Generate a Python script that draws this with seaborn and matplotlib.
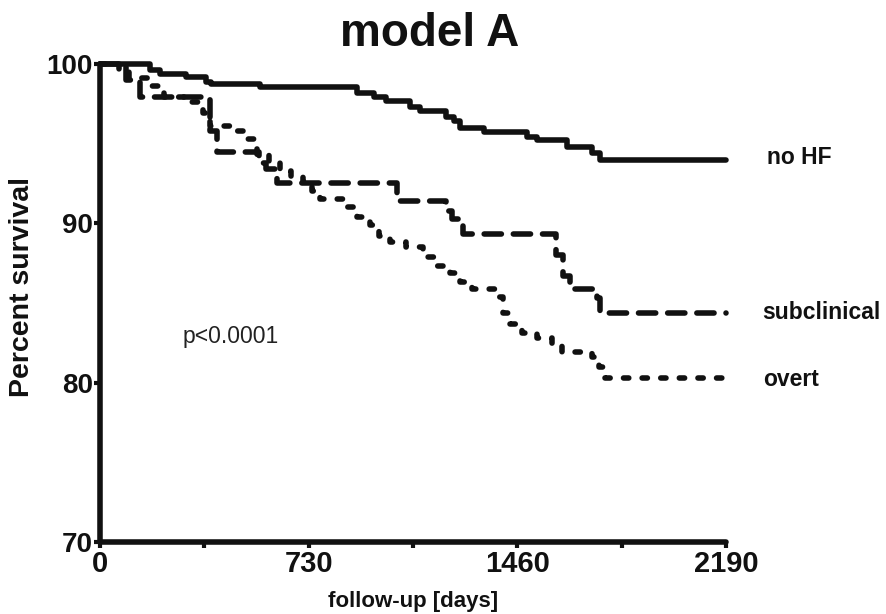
import matplotlib
matplotlib.use("Agg")
import matplotlib.pyplot as plt
import seaborn as sns
import pandas as pd
from matplotlib.ticker import MultipleLocator

# survival step curves (days, percent survival)
nohf_days = [0, 175, 210, 300, 370, 390, 560, 900, 960, 1000, 1085, 1120, 1210, 1240,
             1260, 1345, 1495, 1530, 1635, 1720, 1750, 2190]
nohf_surv = [100, 99.6, 99.4, 99.2, 98.9, 98.75, 98.55, 98.2, 97.9, 97.7, 97.3, 97.05,
             96.7, 96.4, 96.0, 95.7, 95.4, 95.2, 94.8, 94.4, 94.0, 94.0]

subclin_days = [0, 90, 140, 385, 410, 555, 580, 620, 1040, 1210, 1230, 1270, 1595,
                1620, 1645, 1740, 1750, 2190]
subclin_surv = [100, 99.0, 97.9, 95.8, 94.5, 93.8, 93.4, 92.5, 91.4, 90.8, 90.3, 89.3,
                88.0, 86.7, 85.9, 85.3, 84.4, 84.4]

overt_days = [0, 65, 100, 170, 225, 320, 360, 385, 470, 515, 550, 590, 630, 670, 710,
              740, 770, 860, 900, 945, 975, 1015, 1070, 1130, 1180, 1225, 1260, 1300,
              1390, 1410, 1435, 1475, 1530, 1580, 1615, 1720, 1745, 1765, 2185, 2190]
overt_surv = [100, 99.6, 99.1, 98.6, 97.9, 97.6, 96.9, 96.1, 95.8, 95.3, 94.3, 93.8,
              93.3, 92.9, 92.6, 92.0, 91.5, 91.0, 90.4, 89.9, 89.2, 88.8, 88.5, 87.9,
              87.3, 86.9, 86.3, 85.9, 85.4, 84.4, 83.7, 83.1, 82.8, 82.4, 81.9, 81.6,
              81.0, 80.3, 79.8, 79.8]

group_names = ["no HF", "subclinical", "overt"]
x_ticks = [0, 730, 1460, 2190]
y_ticks = [70, 80, 90, 100]

sns.set_style("ticks")
plt.rcParams["font.family"] = ["Liberation Sans", "DejaVu Sans"]

fig = plt.figure(figsize=(8.87, 6.14), dpi=100)
ax = fig.add_axes([0.1127, 0.1173, 0.7058, 0.7785])

lw = 4
styles = {
    "no HF": dict(linestyle="-", solid_capstyle="round"),
    "subclinical": dict(linestyle=(0, (3.1, 2.15)), dash_capstyle="round"),
    "overt": dict(linestyle=(0, (0.95, 2.4)), dash_capstyle="round"),
}
series = {
    "no HF": (nohf_days, nohf_surv),
    "subclinical": (subclin_days, subclin_surv),
    "overt": (overt_days, overt_surv),
}
for name in group_names:
    d, s = series[name]
    df = pd.DataFrame({"days": d, "surv": s})
    sns.lineplot(data=df, x="days", y="surv", ax=ax, color="#111111", lw=lw,
                 drawstyle="steps-post", clip_on=False, **styles[name])

ax.set_xlim(0, 2190)
ax.set_ylim(70, 100)
ax.set_xticks(x_ticks)
ax.set_yticks(y_ticks)
ax.xaxis.set_minor_locator(MultipleLocator(365))
sns.despine(ax=ax)
for sp in ["left", "bottom"]:
    ax.spines[sp].set_linewidth(4)
    ax.spines[sp].set_color("#111111")
    ax.spines[sp].set_capstyle("round")
ax.tick_params(which="both", length=4, width=3, color="#111111", direction="out")
ax.tick_params(axis="x", pad=2, labelsize=21)
ax.tick_params(axis="y", pad=1, labelsize=20)
for lab in ax.get_xticklabels() + ax.get_yticklabels():
    lab.set_fontweight("bold")
    lab.set_color("#111111")

ax.set_xlabel("follow-up [days]", fontsize=16, fontweight="bold", color="#111111", labelpad=9)
ax.set_ylabel("Percent survival", fontsize=20.5, fontweight="bold", color="#111111")
ax.yaxis.set_label_coords(-0.104, 0.533)
ax.set_title("model A", fontsize=33, fontweight="bold", color="#111111", pad=13, x=0.527)

ax.text(290, 82.9, "p<0.0001", fontsize=16.5, color="#222222", va="center", ha="left")
for name, yv, xv in [("no HF", 94.1, 2335), ("subclinical", 84.4, 2315), ("overt", 80.2, 2320)]:
    ax.text(xv, yv, name, fontsize=16.5, fontweight="bold", color="#111111", va="center",
            ha="left", clip_on=False)

fig.savefig("out.png", dpi=100)
